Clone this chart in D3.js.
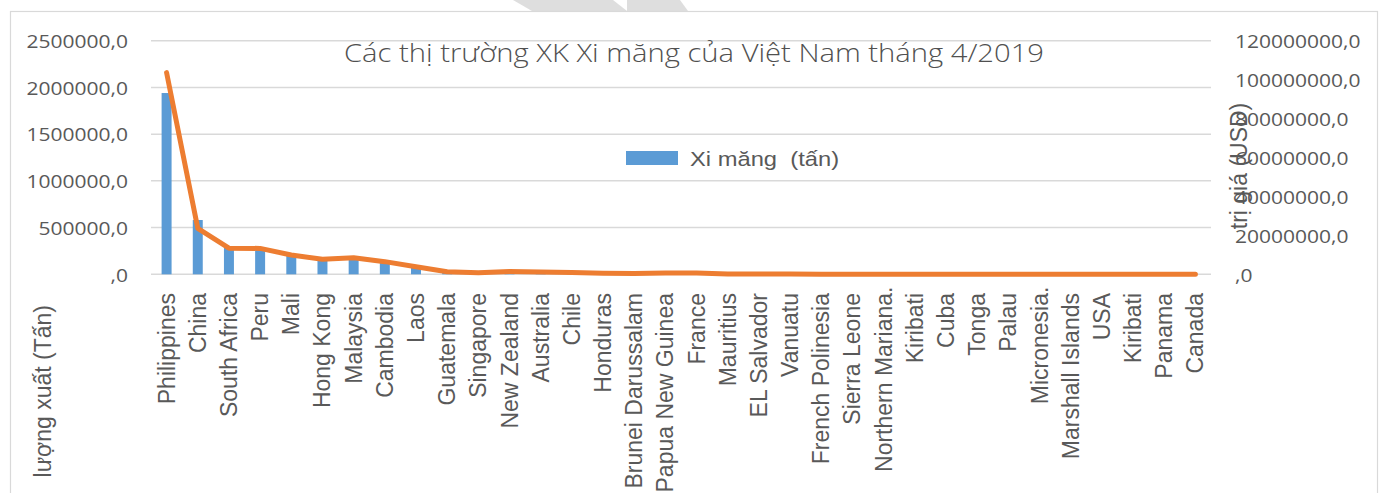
<!DOCTYPE html>
<html>
<head>
<meta charset="utf-8">
<script src="https://cdn.jsdelivr.net/npm/d3@7"></script>
<style>
  body { margin: 0; background: #fff; }
  svg { display: block; }
</style>
</head>
<body>
<div id="chart"></div>
<script>
// categories (Kiribati appears twice in the source, so we key by index)
const countries = ["Philippines", "China", "South Africa", "Peru", "Mali", "Hong Kong", "Malaysia",
  "Cambodia", "Laos", "Guatemala", "Singapore", "New Zealand", "Australia", "Chile", "Honduras",
  "Brunei Darussalam", "Papua New Guinea", "France", "Mauritius", "EL Salvador", "Vanuatu",
  "French Polinesia", "Sierra Leone", "Northern Mariana…", "Kiribati", "Cuba", "Tonga", "Palau",
  "Micronesia…", "Marshall Islands", "USA", "Kiribati", "Panama", "Canada"];

// Xi măng (tấn) - bars, left axis
const tons = [1940000, 581000, 290000, 280000, 200000, 160000, 172000, 132000, 85000, 35000,
  22000, 30000, 22000, 19000, 11000, 6000, 14000, 12000, 4000, 3000, 2000, 1000, 800, 500,
  400, 400, 300, 300, 200, 200, 150, 150, 100, 100];

// trị giá (USD) - line, right axis
const usd = [103600000, 23600000, 13400000, 13300000, 9900000, 7700000, 8500000, 6500000, 3900000,
  1350000, 800000, 1500000, 1200000, 900000, 500000, 350000, 700000, 700000, 200000, 120000,
  100000, 50000, 40000, 30000, 20000, 20000, 15000, 15000, 10000, 10000, 8000, 8000, 5000, 5000];

const leftTicks = [0, 500000, 1000000, 1500000, 2000000, 2500000];
const rightTicks = [0, 20000000, 40000000, 60000000, 80000000, 100000000, 120000000];

const W = 1384, H = 493;
const plot = { left: 151, right: 1211, top: 40.7, bottom: 274.3 };
const SX = 1.13; // source picture is a little wider than tall
const textCol = "#595959";

const svg = d3.select("#chart").append("svg").attr("width", W).attr("height", H);

// faint grey shape peeking in above the frame
svg.append("polygon").attr("points", "513,0 613,0 627,11 532,11").attr("fill", "#dedede");
svg.append("polygon").attr("points", "627,0 680,0 688,11 627,11").attr("fill", "#dedede");

// chart frame
svg.append("rect")
  .attr("x", 10.5).attr("y", 11.5).attr("width", 1367).attr("height", 520)
  .attr("fill", "none").attr("stroke", "#d9d9d9").attr("stroke-width", 1.2);

const x = d3.scaleBand()
  .domain(d3.range(countries.length))
  .range([plot.left, plot.right])
  .paddingInner(0.68).paddingOuter(0.34);

const yL = d3.scaleLinear().domain([0, 2500000]).range([plot.bottom, plot.top]);
const yR = d3.scaleLinear().domain([0, 120000000]).range([plot.bottom, plot.top]);

// gridlines
svg.append("g").selectAll("line")
  .data(leftTicks).enter().append("line")
  .attr("x1", plot.left).attr("x2", plot.right)
  .attr("y1", d => yL(d)).attr("y2", d => yL(d))
  .attr("stroke", "#d9d9d9").attr("stroke-width", 1.5);

const fmt = d => d === 0 ? ",0" : d + ",0";

const axL = svg.append("g")
  .attr("transform", `translate(${plot.left},0)`)
  .call(d3.axisLeft(yL).tickValues(leftTicks).tickFormat(fmt).tickSize(0).tickPadding(23));
const axR = svg.append("g")
  .attr("transform", `translate(${plot.right},0)`)
  .call(d3.axisRight(yR).tickValues(rightTicks).tickFormat(fmt).tickSize(0).tickPadding(24));

[axL, axR].forEach(ax => {
  ax.select(".domain").remove();
  ax.selectAll("text")
    .attr("font-family", "'Open Sans', sans-serif")
    .attr("font-size", 18.6)
    .attr("fill", textCol)
    .attr("dy", "0.36em");
});

// bars
svg.append("g").selectAll("rect")
  .data(tons).enter().append("rect")
  .attr("x", (d, i) => x(i))
  .attr("width", x.bandwidth())
  .attr("y", d => yL(d))
  .attr("height", d => yL(0) - yL(d))
  .attr("fill", "#5b9bd5");

// line
const line = d3.line()
  .x((d, i) => x(i) + x.bandwidth() / 2)
  .y(d => yR(d));

svg.append("path")
  .datum(usd)
  .attr("d", line)
  .attr("fill", "none")
  .attr("stroke", "#ed7d31")
  .attr("stroke-width", 5)
  .attr("stroke-linejoin", "round")
  .attr("stroke-linecap", "round");

// category labels, rotated
const labelTop = 293;
const lab = svg.append("g").selectAll("g")
  .data(countries).enter().append("g")
  .attr("transform", (d, i) => `translate(${x(i) + x.bandwidth() / 2 + 8},${labelTop}) rotate(-90)`);

lab.append("text")
  .attr("text-anchor", "end")
  .attr("font-family", "'Liberation Sans', Arial, sans-serif")
  .attr("font-size", 23)
  .attr("fill", textCol)
  .text(d => d.replace("…", ""));

lab.filter(d => d.endsWith("…")).append("text")
  .attr("text-anchor", "start")
  .attr("font-family", "'Liberation Sans', Arial, sans-serif")
  .attr("font-size", 23)
  .attr("fill", textCol)
  .text(".");

// title
svg.append("text")
  .attr("x", 344).attr("y", 62)
  .attr("font-family", "'Open Sans', sans-serif")
  .attr("font-weight", 300)
  .attr("font-size", 26.5)
  .attr("fill", "#505050")
  .attr("textLength", 700)
  .attr("lengthAdjust", "spacingAndGlyphs")
  .text("Các thị trường XK Xi măng của Việt Nam tháng 4/2019");

// legend
svg.append("rect")
  .attr("x", 626).attr("y", 151).attr("width", 52).attr("height", 14)
  .attr("fill", "#5b9bd5");
svg.append("text")
  .attr("class", "stretch")
  .attr("x", 690).attr("y", 166)
  .attr("font-family", "'Liberation Sans', Arial, sans-serif")
  .attr("font-size", 21)
  .attr("fill", textCol)
  .attr("xml:space", "preserve")
  .text("Xi măng  (tấn)");

// axis titles (the left one is cut by the frame in the source, only this part shows)
svg.append("text")
  .attr("transform", "translate(51,305) rotate(-90)")
  .attr("text-anchor", "end")
  .attr("font-family", "'Liberation Sans', Arial, sans-serif")
  .attr("font-size", 23)
  .attr("fill", textCol)
  .text("lượng xuất (Tấn)");

svg.append("text")
  .attr("transform", "translate(1247,166) rotate(-90)")
  .attr("text-anchor", "middle")
  .attr("font-family", "'Liberation Sans', Arial, sans-serif")
  .attr("font-size", 23)
  .attr("fill", textCol)
  .text("trị giá (USD)");

// widen horizontal text like in the source picture
svg.selectAll(".tick text, text.stretch").each(function() {
  const len = this.getComputedTextLength();
  d3.select(this).attr("textLength", len * SX).attr("lengthAdjust", "spacingAndGlyphs");
});
</script>
</body>
</html>
